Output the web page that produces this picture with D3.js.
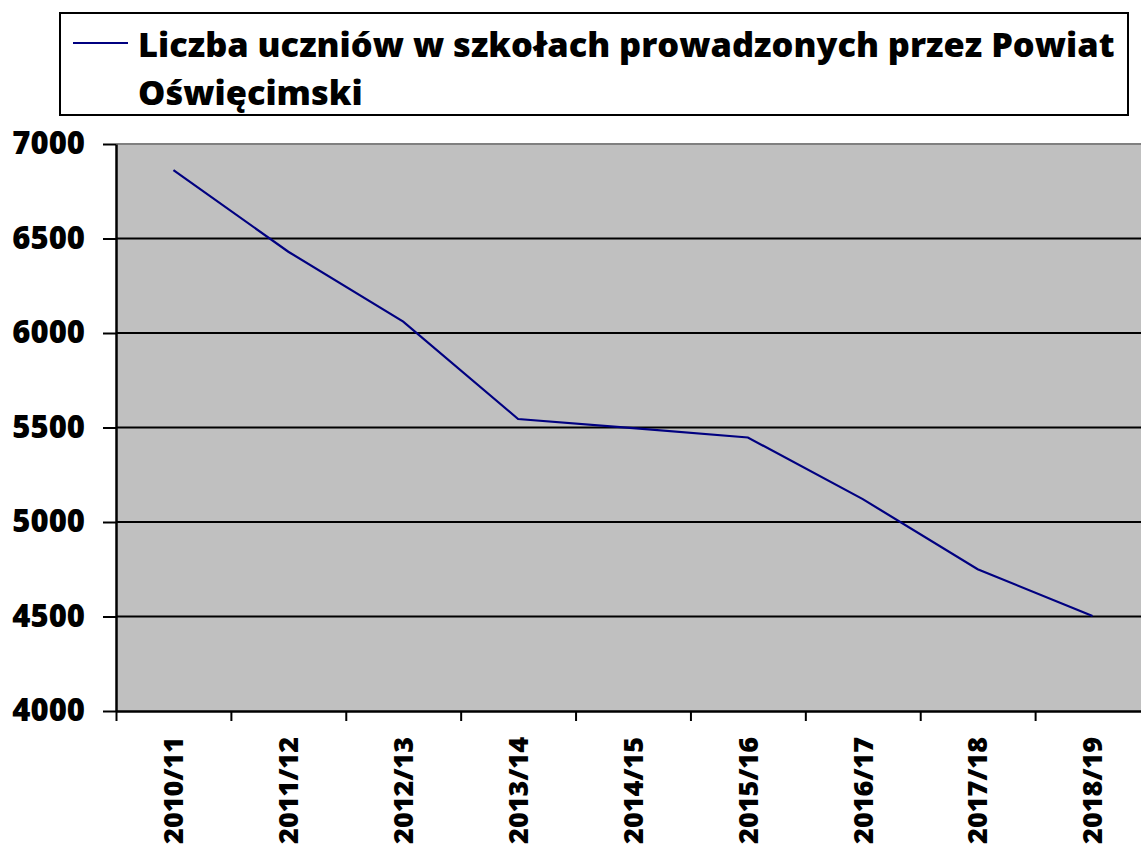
<!DOCTYPE html>
<html>
<head>
  <meta charset="UTF-8">
  <title>Liczba uczniów</title>
  <script src="https://d3js.org/d3.v7.min.js"></script>
  <style>
    body { margin: 0; background: #fff; }
    text { font-family: "Open Sans", "DejaVu Sans", sans-serif; font-weight: 800; }
  </style>
</head>
<body>
  <div id="chart"></div>
  <script>
    const years = ["2010/11", "2011/12", "2012/13", "2013/14", "2014/15", "2015/16", "2016/17", "2017/18", "2018/19"];
    const students = [6862, 6430, 6060, 5545, 5497, 5447, 5121, 4750, 4503];
    const yTicks = [4000, 4500, 5000, 5500, 6000, 6500, 7000];
    const seriesName = ["Liczba uczniów w szkołach prowadzonych przez Powiat", "Oświęcimski"];

    const W = 1141, H = 847;
    const plot = { left: 116, right: 1150, top: 144, bottom: 711 };

    const svg = d3.select("#chart").append("svg")
      .attr("width", W)
      .attr("height", H);

    const x = d3.scaleBand()
      .domain(years)
      .range([plot.left, plot.right])
      .padding(0);

    const xIdx = d3.scaleLinear()
      .domain([0, years.length])
      .range([plot.left, plot.right]);

    const y = d3.scaleLinear()
      .domain([4000, 7000])
      .range([plot.bottom, plot.top]);

    // plot background
    svg.append("rect")
      .attr("x", plot.left)
      .attr("y", plot.top)
      .attr("width", plot.right - plot.left)
      .attr("height", plot.bottom - plot.top)
      .attr("fill", "#c0c0c0");

    svg.append("line")
      .attr("x1", plot.left).attr("x2", plot.right)
      .attr("y1", plot.top).attr("y2", plot.top)
      .attr("stroke", "#808080").attr("stroke-width", 2);

    // gridlines
    svg.append("g")
      .selectAll("line")
      .data(yTicks.filter(d => d > 4000 && d < 7000))
      .join("line")
      .attr("x1", plot.left).attr("x2", plot.right)
      .attr("y1", d => y(d)).attr("y2", d => y(d))
      .attr("stroke", "#000").attr("stroke-width", 2);

    // y axis
    const yAxis = svg.append("g")
      .attr("transform", "translate(" + plot.left + ",0)")
      .call(d3.axisLeft(y).tickValues(yTicks).tickFormat(d3.format("d"))
        .tickSize(13).tickPadding(18).tickSizeOuter(0));
    yAxis.select(".domain").attr("stroke-width", 2.5);
    yAxis.selectAll(".tick line").attr("stroke-width", 2);
    yAxis.selectAll("text")
      .attr("fill", "#000")
      .style("font-size", "31px")
      .style("font-family", "'Open Sans', sans-serif")
      .style("font-weight", "800");

    // x axis (ticks between categories)
    const xAxis = svg.append("g")
      .attr("transform", "translate(0," + plot.bottom + ")")
      .call(d3.axisBottom(xIdx).tickValues(d3.range(years.length)).tickSize(10).tickFormat("").tickSizeOuter(0));
    xAxis.select(".domain").attr("stroke-width", 2.5);
    xAxis.selectAll(".tick line").attr("stroke-width", 2);

    const xl = svg.append("g")
      .selectAll("text")
      .data(years)
      .join("text")
      .attr("transform", d => "translate(" + (x(d) + x.bandwidth() / 2) + "," + 737 + ") rotate(-90)")
      .attr("text-anchor", "end")
      .attr("dy", "0.36em")
      .style("font-size", "100px")
      .text(d => d);
    const xfs = 100 * 107 / xl.node().getComputedTextLength();
    xl.style("font-size", xfs + "px");

    // line
    const line = d3.line()
      .x((d, i) => x(years[i]) + x.bandwidth() / 2)
      .y(d => y(d));

    svg.append("path")
      .datum(students)
      .attr("d", line)
      .attr("fill", "none")
      .attr("stroke", "#000080")
      .attr("stroke-width", 2.2);

    // legend
    svg.append("rect")
      .attr("x", 60).attr("y", 13)
      .attr("width", 1068).attr("height", 102)
      .attr("fill", "#fff")
      .attr("stroke", "#000")
      .attr("stroke-width", 2);

    svg.append("line")
      .attr("x1", 73).attr("x2", 128)
      .attr("y1", 43).attr("y2", 43)
      .attr("stroke", "#000080").attr("stroke-width", 2);

    const leg = svg.append("g");
    const l1 = leg.append("text")
      .attr("x", 138).attr("y", 57)
      .style("font-size", "100px")
      .text(seriesName[0]);
    const fs = 100 * 977 / l1.node().getComputedTextLength();
    l1.style("font-size", fs + "px");
    leg.append("text")
      .attr("x", 138).attr("y", 105)
      .style("font-size", fs + "px")
      .text(seriesName[1]);
  </script>
</body>
</html>
